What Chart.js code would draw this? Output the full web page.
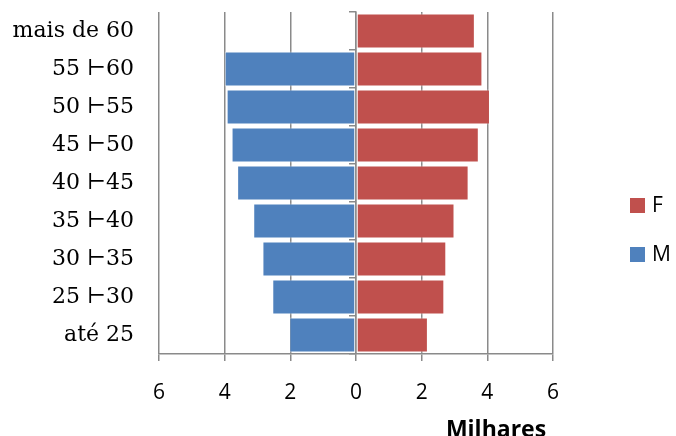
<!DOCTYPE html>
<html>
<head>
<meta charset="utf-8">
<script src="https://cdn.jsdelivr.net/npm/chart.js@4/dist/chart.umd.min.js"></script>
<style>
html,body{margin:0;padding:0;background:#fff;}
canvas{display:block;}
</style>
</head>
<body>
<canvas id="c" width="676" height="436"></canvas>
<script>
const categories = ['mais de 60', '55 \u22A260', '50 \u22A255', '45 \u22A250', '40 \u22A245', '35 \u22A240', '30 \u22A235', '25 \u22A230', 'até 25'];
const maleValues = [0, 4.0, 3.94, 3.79, 3.62, 3.13, 2.85, 2.55, 2.03];
const femaleValues = [3.62, 3.85, 4.08, 3.74, 3.43, 3.0, 2.75, 2.69, 2.19];
const xTickValues = [-6, -4, -2, 0, 2, 4, 6];
const xTitle = 'Milhares';

const gridColor = '#8a8a8a';

const extrasPlugin = {
  id: 'extras',
  afterDraw(chart) {
    const ctx = chart.ctx;
    const items = chart.data.datasets.slice().reverse();
    ctx.save();
    ctx.font = '21px "Open Sans"';
    ctx.textBaseline = 'middle';
    ctx.textAlign = 'left';
    items.forEach((ds, i) => {
      const cy = 205.5 + i * 49;
      ctx.fillStyle = ds.backgroundColor;
      ctx.fillRect(630, cy - 7.5, 15, 15);
      ctx.fillStyle = '#000';
      ctx.fillText(ds.label, 652, cy + 1);
    });
    // x-axis title
    ctx.font = 'bold 23px "Open Sans"';
    ctx.textAlign = 'center';
    ctx.fillText(xTitle, 496, 430);
    ctx.restore();
  }
};

new Chart(document.getElementById('c'), {
  type: 'bar',
  data: {
    labels: categories,
    datasets: [
      { label: 'M', data: maleValues.map(v => -v), backgroundColor: '#4F81BD', borderColor: 'rgba(255,255,255,0.55)', borderWidth: 1, borderSkipped: false, barPercentage: 0.92, categoryPercentage: 1 },
      { label: 'F', data: femaleValues, backgroundColor: '#C0504D', borderColor: 'rgba(255,255,255,0.55)', borderWidth: 1, borderSkipped: false, barPercentage: 0.92, categoryPercentage: 1 }
    ]
  },
  options: {
    indexAxis: 'y',
    responsive: false,
    animation: false,
    layout: { padding: { left: 0, right: 123, top: 12, bottom: 0 } },
    plugins: { legend: { display: false }, tooltip: { enabled: false } },
    scales: {
      x: {
        stacked: true,
        min: -6, max: 6,
        afterBuildTicks(scale) { scale.ticks = xTickValues.map(v => ({ value: v })); },
        afterFit(scale) { scale.height = 82; scale.paddingLeft = 0; scale.paddingRight = 0; },
        grid: { color: gridColor, lineWidth: 1.5, drawTicks: true, tickLength: 7 },
        border: { display: true, color: gridColor, width: 1.5 },
        ticks: {
          color: '#000', font: { family: 'Open Sans', size: 21 }, padding: 19,
          callback: v => String(Math.abs(v))
        }
      },
      y: {
        stacked: true,
        afterFit(scale) { scale.width = 159; scale.paddingTop = 0; scale.paddingBottom = 0; },
        grid: { display: false, drawTicks: false },
        border: { display: false },
        ticks: { color: '#000', font: { family: 'DejaVu Serif', size: 22 }, padding: 25 }
      },
      y2: {
        type: 'category',
        axis: 'y',
        position: { x: 0 },
        offset: true,
        afterFit(scale) { scale.width = 0; scale.paddingTop = 0; scale.paddingBottom = 0; },
        grid: { offset: true, drawOnChartArea: false, drawTicks: true, tickLength: 6, color: gridColor, lineWidth: 1.5 },
        border: { display: true, color: gridColor, width: 1.5 },
        ticks: { display: false }
      }
    }
  },
  plugins: [extrasPlugin]
});
</script>
</body>
</html>
